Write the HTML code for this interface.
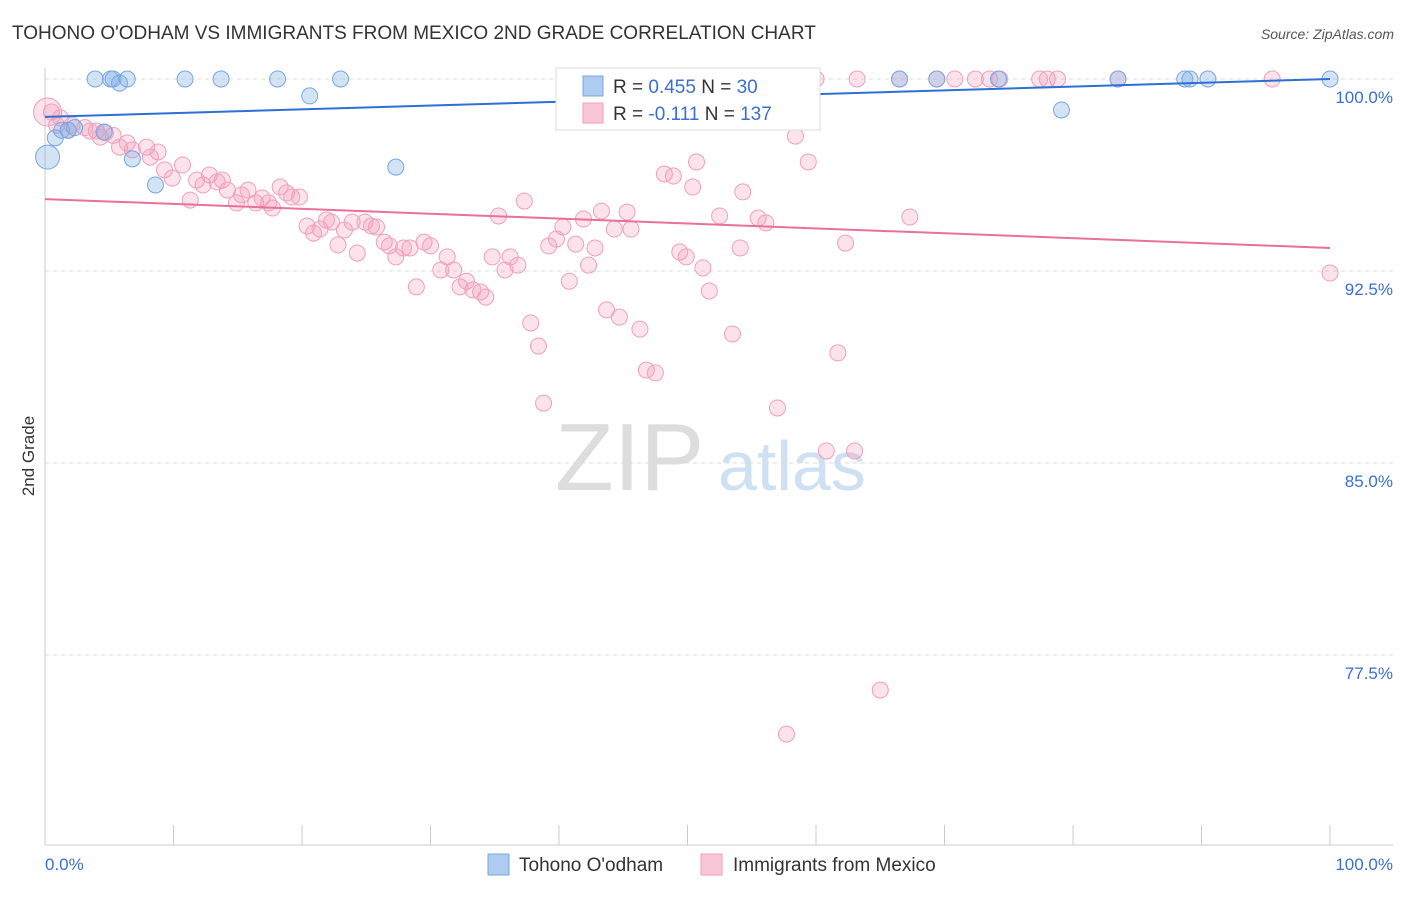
<!DOCTYPE html>
<html><head><meta charset="utf-8"><style>
body{margin:0;background:#fff;font-family:"Liberation Sans",sans-serif;}
svg text{font-family:"Liberation Sans",sans-serif;}
</style></head><body>
<svg id="c" width="1406" height="892" xmlns="http://www.w3.org/2000/svg">
<text x="12" y="39" font-size="19" fill="#333">TOHONO O'ODHAM VS IMMIGRANTS FROM MEXICO 2ND GRADE CORRELATION CHART</text>
<text x="1394" y="39" font-size="14" fill="#555" font-style="italic" text-anchor="end">Source: ZipAtlas.com</text>
<text x="34" y="456" font-size="17" fill="#333" text-anchor="middle" transform="rotate(-90 34 456)">2nd Grade</text>
<text x="555" y="490" font-size="96" fill="#ddd" font-family="Liberation Serif">ZIP</text>
<text x="718" y="490" font-size="70" fill="#cfe0f3">atlas</text>
<g id="grid"></g><g id="pts"></g><g id="lines"></g>
<g>
<rect x="556" y="68" width="264" height="62" fill="#fff" stroke="#ddd"/>
<rect x="583" y="76" width="20" height="20" fill="#aecbf0" stroke="#7aa6e0"/>
<rect x="583" y="103" width="20" height="20" fill="#f8c6d6" stroke="#f0a0bb"/>
<text x="613" y="93" font-size="19" fill="#333">R = <tspan fill="#3b6fd4">0.455</tspan>   N = <tspan fill="#3b6fd4">30</tspan></text>
<text x="613" y="120" font-size="19" fill="#333">R = <tspan fill="#3b6fd4">-0.111</tspan>   N = <tspan fill="#3b6fd4">137</tspan></text>
</g>
<g>
<rect x="488" y="854" width="21" height="21" fill="#aecbf0" stroke="#7aa6e0"/>
<text x="519" y="871" font-size="19" fill="#333">Tohono O'odham</text>
<rect x="701" y="854" width="21" height="21" fill="#f8c6d6" stroke="#f0a0bb"/>
<text x="733" y="871" font-size="19" fill="#333">Immigrants from Mexico</text>
</g>
</svg>
<script>
const yTicks=[100,92.5,85,77.5];
const yTickLabels=["100.0%","92.5%","85.0%","77.5%"];
const xTicks=[0,10,20,30,40,50,60,70,80,90,100];
const blueX=[3.9,5.1,5.3,5.8,6.4,10.9,13.7,18.1,23.0,20.6,0.2,0.8,1.3,1.8,2.3,4.6,6.8,8.6,27.3,47.5,66.5,69.4,74.2,83.5,88.7,89.1,90.5,100,79.1];
const blueY=[100,100,100,99.84,100,100,100,100,100,99.34,96.95,97.7,98.0,98.0,98.1,97.93,96.88,95.86,96.56,100,100,100,100,100,100,100,100,100,98.79];
const pinkX=[0.5,1.2,1.8,2.1,3.1,3.5,4.0,4.7,5.3,5.8,6.4,6.8,7.9,8.2,8.8,9.3,9.9,10.7,11.3,11.8,12.3,12.8,13.4,13.8,14.2,14.9,15.3,15.8,16.4,16.9,17.4,17.7,18.3,18.8,19.2,19.8,20.4,20.9,21.4,21.9,22.3,22.8,23.3,23.9,24.3,24.9,25.4,25.8,26.4,26.8,27.3,27.9,28.4,28.9,29.5,30.0,30.8,31.3,31.8,32.3,32.8,33.3,33.9,34.3,34.8,35.3,35.8,36.2,36.8,37.3,37.8,38.4,38.8,39.2,39.8,40.3,40.8,41.3,41.9,42.3,42.8,43.3,43.7,44.3,44.7,45.3,45.6,46.3,46.8,47.5,48.2,48.9,49.4,49.9,50.4,50.7,51.2,51.7,52.5,53.5,54.1,54.3,55.5,56.1,57.0,57.7,58.4,59.4,60.8,61.7,62.3,63.0,65.0,67.3,100,47.9,51.0,55.6,58.0,60.0,63.2,66.5,69.4,70.8,72.4,73.5,74.3,77.4,78.0,78.8,83.5,95.5,0.2,0.9,4.3];
const pinkY=[98.71,98.48,98.0,98.2,98.1,97.97,97.97,97.9,97.8,97.34,97.5,97.23,97.34,96.95,97.15,96.45,96.13,96.64,95.27,96.05,95.86,96.25,95.98,96.05,95.66,95.16,95.47,95.66,95.16,95.35,95.16,94.96,95.78,95.55,95.39,95.39,94.26,93.98,94.14,94.49,94.41,93.52,94.1,94.41,93.2,94.41,94.26,94.22,93.63,93.48,93.05,93.4,93.4,91.88,93.63,93.48,92.54,93.05,92.54,91.88,92.1,91.76,91.68,91.48,93.05,94.65,92.54,93.05,92.73,95.23,90.47,89.57,87.34,93.48,93.75,94.22,92.1,93.55,94.53,92.73,93.4,94.84,90.98,94.14,90.7,94.8,94.14,90.23,88.63,88.52,96.29,96.21,93.24,93.05,95.78,96.76,92.62,91.72,94.65,90.04,93.4,95.59,94.57,94.38,87.15,74.41,97.77,96.76,85.47,89.3,93.59,85.47,76.13,94.61,92.42,100,100,100,100,100,100,100,100,100,100,100,100,100,100,100,100,100,98.71,98.2,97.73];
const blueTrend=[98.52,100];
const pinkTrend=[95.31,93.4];
const NS="http://www.w3.org/2000/svg";
const X=v=>45+v*12.85, Y=v=>79+(100-v)*25.6;
function mk(t,a,p){const e=document.createElementNS(NS,t);for(const k in a)e.setAttribute(k,a[k]);p.appendChild(e);return e;}
const g=document.getElementById('grid');
yTicks.forEach((t,i)=>{
 const l=mk('line',{x1:45,x2:1393,y1:Y(t),y2:Y(t),stroke:'#ddd','stroke-dasharray':'4,4'},g);
 
 
 const tx=mk('text',{x:1393,y:Y(t)+24,'font-size':17,fill:'#3b6fd4','text-anchor':'end'},g);tx.textContent=yTickLabels[i];
 
 
});
mk('line',{x1:45,x2:45,y1:68,y2:845,stroke:'#ccc'},g);
mk('line',{x1:45,x2:1393,y1:845,y2:845,stroke:'#ccc'},g);
xTicks.forEach(t=>{const l=mk('line',{x1:X(t),x2:X(t),y1:825,y2:845,stroke:'#ccc'},g);
 
 });
const a=mk('text',{x:45,y:870,'font-size':17,fill:'#3b6fd4'},g);a.textContent='0.0%';


const b=mk('text',{x:1393,y:870,'font-size':17,fill:'#3b6fd4','text-anchor':'end'},g);b.textContent='100.0%';


const p=document.getElementById('pts');
pinkX.forEach((x,i)=>{const c=mk('circle',{cx:X(x),cy:Y(pinkY[i]),r:i==pinkX.length-3?14:8,fill:'rgba(243,160,190,0.3)',stroke:'#f0a0bb','stroke-width':1},p);
 
 });
blueX.forEach((x,i)=>{const c=mk('circle',{cx:X(x),cy:Y(blueY[i]),r:i==10?12:8,fill:'rgba(130,175,230,0.35)',stroke:'#7aa6e0','stroke-width':1},p);
 
 });
const L=document.getElementById('lines');
const bl=mk('line',{x1:X(0),x2:X(100),y1:Y(blueTrend[0]),y2:Y(blueTrend[1]),stroke:'#2d6fd6','stroke-width':2},L);


const pl=mk('line',{x1:X(0),x2:X(100),y1:Y(pinkTrend[0]),y2:Y(pinkTrend[1]),stroke:'#e8709a','stroke-width':2},L);


</script>
</body></html>
